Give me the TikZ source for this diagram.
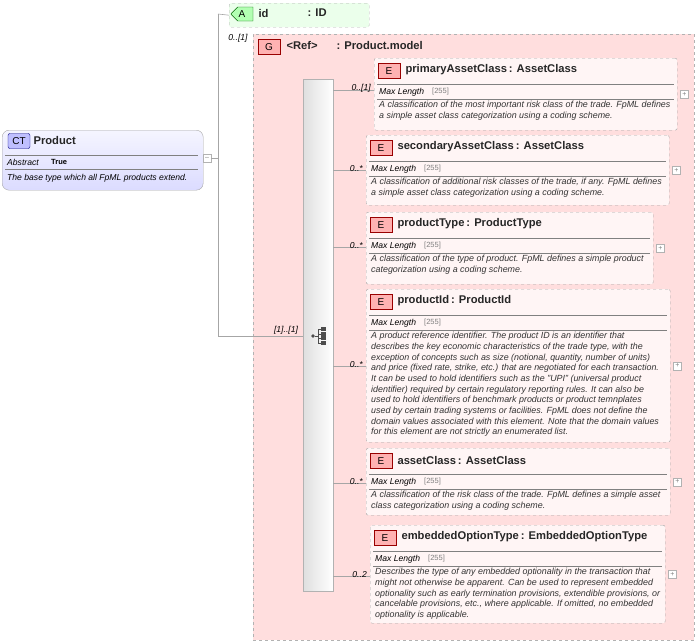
\documentclass[tikz,border=0pt]{standalone}
\usepackage{fontspec}
\setmainfont{Liberation Sans}
\usetikzlibrary{shapes.misc}
\begin{document}
\begin{tikzpicture}[x=1pt,y=-1pt,
  ebox/.style={draw=gray!70,dashed,fill=red!4,rounded corners=2pt},
  badge/.style={draw=red!60!black,fill=red!30,minimum width=22pt,minimum height=15pt,inner sep=0pt,font=\fontsize{10}{11}\selectfont},
  ttl/.style={anchor=west,font=\bfseries\fontsize{11.2}{12}\selectfont,text=black!85},
  ml/.style={anchor=west,font=\itshape\fontsize{8.6}{10}\selectfont,inner sep=0pt},
  mlv/.style={anchor=west,font=\fontsize{7.5}{9}\selectfont,text=gray,inner sep=0pt},
  dsc/.style={anchor=north west,font=\itshape\fontsize{8.9}{10.7}\selectfont,align=left,inner sep=0pt,text=black!80},
  card/.style={font=\itshape\fontsize{8.6}{10}\selectfont,inner sep=0pt},
  conn/.style={draw=gray!70,line width=0.6pt},
  plus/.style={draw=gray!60,fill=white,minimum size=8pt,inner sep=0pt,font=\fontsize{7}{7}\selectfont,text=gray}]
\useasboundingbox (0,0) rectangle (700,643);
% CT product
\node[draw=gray!70,rounded corners=7pt,top color=blue!4,bottom color=blue!14,minimum width=201pt,minimum height=60pt,anchor=north west] (ct) at (2,130) {};
\node[draw=blue!50!black,fill=blue!25,rounded corners=2pt,minimum width=22pt,minimum height=15pt,inner sep=0pt,font=\fontsize{10}{11}\selectfont] (ctb) at (19,141) {CT};
\node[ttl] (ctt) at (30,140) {Product};
\draw[gray] (5,155) -- (198,155) (5,169) -- (198,169);
\node[ml] (abs) at (7,162) {Abstract};
\node[anchor=west,inner sep=0pt,font=\bfseries\fontsize{7.5}{9}\selectfont] (tru) at (51,162) {True};
\node[ml] (ctd) at (7,178) {The base type which all FpML products extend.};
\node[draw=gray!60,fill=white,minimum size=8pt,inner sep=0pt,font=\fontsize{7}{7}\selectfont,text=gray] (ctm) at (207,158) {--};
% attribute
\node[draw=gray!60,dashed,fill=green!8,minimum width=140pt,minimum height=24pt,anchor=north west,rounded corners=2pt] (att) at (229,3) {};
\node[draw=green!40!black,fill=green!30,chamfered rectangle,chamfered rectangle corners={north west,south west},minimum width=22pt,minimum height=14pt,inner sep=0pt,font=\fontsize{10}{11}\selectfont] (ab) at (242,14) {A};
\node[ttl] (aid) at (255,13) {id};
\node[ttl] (aty) at (304,13) {: ID};
% group
\node[draw=gray!60,dashed,fill=red!13,minimum width=441pt,minimum height=606pt,anchor=north west] (grp) at (253,34) {};
\node[badge] (gb) at (269,47) {G};
\node[ttl] (gr) at (283,45) {<Ref>};
\node[ttl] (gt) at (333,45) {: Product.model};
\node[card] (gc) at (238,38) {0..[1]};
% connector tree
\coordinate (j) at (218,158);
\draw[conn] (ctm.east) -- (j);
\draw[conn] (218,14) -- (218,336);
\draw[conn] (218,14) -- (att.west);
\node[draw=gray!60,left color=gray!25,right color=white,minimum width=30pt,minimum height=512pt,anchor=north west,inner sep=0pt] (seq) at (303,79) {};
\draw[conn] (218,336) -- (seq.west |- 0,336);
\node[card] (sc) at (286,330) {[1]..[1]};
% sequence icon
\node[fill=black!70,circle,inner sep=1.3pt] (si) at (313,336) {};
\draw[black!70,line width=0.7pt] (si) -- (318,336) (318,329) -- (318,343) (318,329) -- (322,329) (318,334) -- (322,334) (318,338) -- (322,338) (318,343) -- (322,343);
\foreach \yy in {329,334,338,343} \fill[black!70] (321,\yy-1.7) rectangle (325.5,\yy+1.7);
% elements
\newcommand\elem[8]{%
 \node[ebox,minimum width=#3pt,minimum height=#4pt,anchor=north west] (#1) at (#2) {};
 \node[badge] (#1b) at ([xshift=15pt,yshift=-13pt]#1.north west) {E};
 \node[ttl] (#1t) at ([xshift=28pt,yshift=-12pt]#1.north west) {#5};
 \draw[gray] ([xshift=3pt,yshift=-26pt]#1.north west) -- ([xshift=-3pt,yshift=-26pt]#1.north east);
 \draw[gray] ([xshift=3pt,yshift=-41pt]#1.north west) -- ([xshift=-3pt,yshift=-41pt]#1.north east);
 \node[ml] (#1m) at ([xshift=5pt,yshift=-34pt]#1.north west) {Max Length};
 \node[mlv] (#1v) at ([xshift=58pt,yshift=-34pt]#1.north west) {[255]};
 \node[dsc] (#1d) at ([xshift=5pt,yshift=-43pt]#1.north west) {#6};
 \node[plus] (#1p) at ([xshift=7pt]#1.east) {+};
 \draw[conn] (seq.east |- 0,#7) -- (#1.west |- 0,#7);
 \node[card,anchor=south east] (#1c) at ([xshift=-3pt,yshift=-2pt]#1.west |- 0,#7) {#8};
}
\elem{e1}{374,58}{303}{72}{primaryAssetClass\,: AssetClass}{A classification of the most important risk class of the trade. FpML defines\\a simple asset class categorization using a coding scheme.}{90}{0..[1]}
\elem{e2}{366,135}{303}{70}{secondaryAssetClass\,: AssetClass}{A classification of additional risk classes of the trade, if any. FpML defines\\a simple asset class categorization using a coding scheme.}{170}{0..*}
\elem{e3}{366,212}{287}{72}{productType\,: ProductType}{A classification of the type of product. FpML defines a simple product\\categorization using a coding scheme.}{247}{0..*}
\elem{e4}{366,289}{304}{153}{productId\,: ProductId}{A product reference identifier. The product ID is an identifier that\\describes the key economic characteristics of the trade type, with the\\exception of concepts such as size (notional, quantity, number of units)\\and price (fixed rate, strike, etc.) that are negotiated for each transaction.\\It can be used to hold identifiers such as the "UPI" (universal product\\identifier) required by certain regulatory reporting rules. It can also be\\used to hold identifiers of benchmark products or product temnplates\\used by certain trading systems or facilities. FpML does not define the\\domain values associated with this element. Note that the domain values\\for this element are not strictly an enumerated list.}{366}{0..*}
\elem{e5}{366,448}{304}{67}{assetClass\,: AssetClass}{A classification of the risk class of the trade. FpML defines a simple asset\\class categorization using a coding scheme.}{483}{0..*}
\elem{e6}{370,525}{295}{98}{embeddedOptionType\,: EmbeddedOptionType}{Describes the type of any embedded optionality in the transaction that\\might not otherwise be apparent. Can be used to represent embedded\\optionality such as early termination provisions, extendible provisions, or\\cancelable provisions, etc., where applicable. If omitted, no embedded\\optionality is applicable.}{576}{0..2}
\end{tikzpicture}
\end{document}
